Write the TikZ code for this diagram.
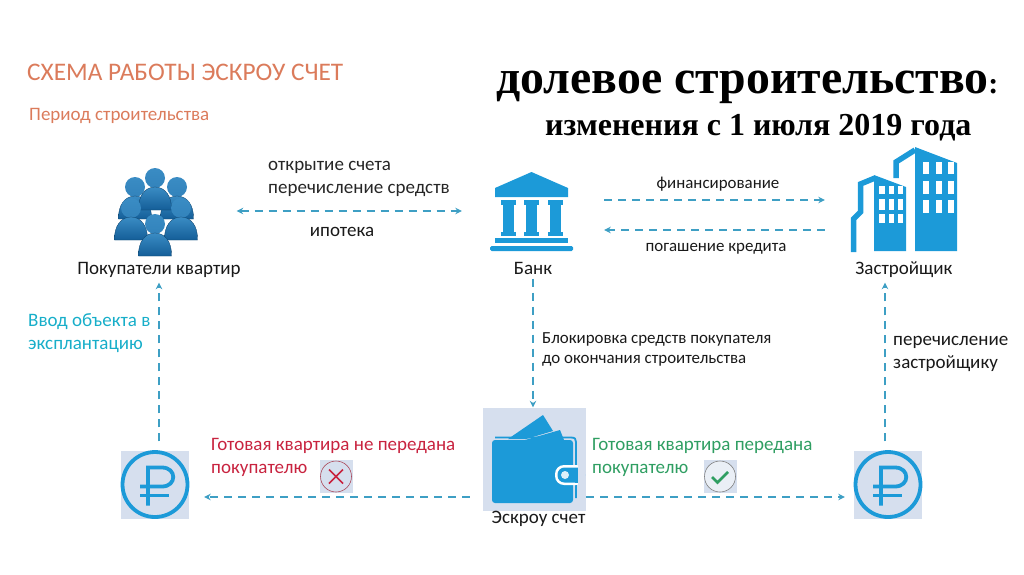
\documentclass[tikz,border=0pt]{standalone}
\usepackage{fontspec}
\setmainfont{Carlito}
\newfontfamily\titlefont{Liberation Serif}
\usepackage{xcolor}
\usetikzlibrary{positioning, arrows.meta}
\definecolor{iconBlue}{HTML}{1C9AD8}
\definecolor{flowTeal}{HTML}{3E9FC4}
\definecolor{badgeGrey}{HTML}{D6DFEE}
\definecolor{headOrange}{HTML}{DB7B5B}
\definecolor{inputTeal}{HTML}{17AEC9}
\definecolor{lostRed}{HTML}{C8233F}
\definecolor{doneGreen}{HTML}{2F9E62}
\definecolor{peopleTop}{HTML}{3A8CC4}
\definecolor{peopleLow}{HTML}{145E98}

\begin{document}
\begin{tikzpicture}[
  x=1pt, y=-1pt,
  every node/.style={font=\fontsize{19}{23}\selectfont, text=black!90, inner sep=0pt},
  spot/.style={minimum width=#1, minimum height=80pt},
  caption/.style={font=\fontsize{19}{23}\selectfont, align=center, text height=13pt, text depth=4pt},
  note/.style={font=\fontsize{19}{23}\selectfont, align=left, anchor=west},
  small/.style={font=\fontsize{16.9}{20}\selectfont, align=left, anchor=west},
  tilebox/.style={fill=badgeGrey, minimum width=#1, minimum height=#1},
  flow/.style={flowTeal, line width=1.8pt, dash pattern=on 8pt off 6pt, -{Stealth[length=6.5pt,width=6.5pt]}},
  flowboth/.style={flow, {Stealth[length=6.5pt,width=6.5pt]}-{Stealth[length=6.5pt,width=6.5pt]}},
  person/.pic={
    \shade[top color=peopleTop, bottom color=peopleTop!80!peopleLow] (0,0) circle (10);
    \shade[top color=peopleTop, bottom color=peopleLow, draw=peopleLow!70!black, line width=0.3pt]
      (-16.5,32) .. controls (-17,18) and (-10,9) .. (0,9)
      .. controls (10,9) and (17,18) .. (16.5,32) -- cycle;
  },
  rubleicon/.pic={
    \draw[iconBlue, line width=3.8pt] (0,0) circle (32.5);
    \draw[iconBlue, line width=3.8pt] (-7,21) -- (-7,-17) -- (7,-17)
      .. controls (22,-17) and (22,2) .. (7,2) -- (-15,2);
    \draw[iconBlue, line width=3.8pt] (-15,11) -- (14,11);
  },
]
\useasboundingbox (0,0) rectangle (1024,574);

% Headings
\node[font=\fontsize{25.3}{28}\selectfont, text=headOrange, anchor=west] (schemehead) at (27,72) {СХЕМА РАБОТЫ ЭСКРОУ СЧЕТ};
\node[small, font=\fontsize{19}{20}\selectfont, text=headOrange] (periodhead) at (29,116) {Период строительства};
\node[font=\fontsize{47.8}{50}\selectfont\titlefont\bfseries, text=black, anchor=base west] (lawhead) at (496,93) {долевое строительство{\fontsize{30}{30}\selectfont:}};
\node[font=\fontsize{32}{34}\selectfont\titlefont\bfseries, text=black, anchor=base west] (lawsub) at (545,135) {изменения с 1 июля 2019 года};

% Icon places
\node[spot=85pt] (buyers) at (157,211) {};
\node[spot=83pt] (bank) at (531.5,211) {};
\node[spot=107pt] (builder) at (903.5,211) {};
\node[tilebox=103pt] (wallet) at (534.5,459) {};
\node[tilebox=68pt] (rubleleft) at (155,484.5) {};
\node[tilebox=68pt] (rubleright) at (888,484.5) {};
\node[tilebox=33pt] (crossbadge) at (336,476.5) {};
\node[tilebox=33pt] (checkbadge) at (720,476.5) {};

% Captions
\node[caption] (buyersname) at (159,270) {Покупатели квартир};
\node[caption] (bankname) at (533,270) {Банк};
\node[caption] (buildername) at (904,270) {Застройщик};
\node[caption, below=0pt of wallet.south, xshift=4pt] (walletname) {Эскроу счет};

% Buyers
\foreach \px/\py in {135/187, 177/187, 155/178, 131/208, 181/208, 155/224}
  \pic at (\px,\py) {person};

% Bank
\fill[iconBlue] (531.5,172) -- (568,188) -- (568,197) -- (495,197) -- (495,188) -- cycle;
\foreach \cx in {508.5,531.5,555.5} {
  \fill[iconBlue] (\cx-7.5,200) rectangle (\cx+7.5,205);
  \fill[iconBlue] (\cx-5.5,205) rectangle (\cx+5.5,232);
  \fill[iconBlue] (\cx-7.5,232) rectangle (\cx+7.5,236);
}
\fill[iconBlue] (495,238) rectangle (568,243);
\fill[iconBlue, rounded corners=1.5pt] (490,246) rectangle (573,251);

% Builder
\fill[iconBlue] (915,147) -- (957,163) -- (957,251) -- (915,251) -- cycle;
\fill[iconBlue] (874,175) -- (906,187) -- (906,251) -- (874,251) -- cycle;
\draw[iconBlue, line width=5.5pt] (896,178) -- (896,162) -- (915,150);
\draw[iconBlue, line width=5.5pt] (853.5,252) -- (853.5,219) -- (860.5,212) -- (860.5,184) -- (875,178);
\foreach \wx/\ww in {879/6,889/4.5,898/4.5} {
  \foreach \wy/\wh in {186/8,199/11,214/9}
    \fill[white] (\wx,\wy) rectangle (\wx+\ww,\wy+\wh);
}
\foreach \wx in {923,936,948} {
  \foreach \wy/\wh in {162/12,181/13,200/13}
    \fill[white] (\wx,\wy) rectangle (\wx+6,\wy+\wh);
}

% Wallet
\fill[iconBlue] (508,439) -- (543,415) -- (553,431) -- (526,439) -- cycle;
\fill[iconBlue] (525,440) -- (560,430) -- (564,440) -- cycle;
\draw[iconBlue, line width=1.8pt] (495,437.5) -- (571,437.5) .. controls (575,437.5) and (576,439) .. (576,442) -- (576,498);
\fill[iconBlue, rounded corners=3pt] (492,440) rectangle (573,503);
\fill[white, rounded corners=9pt] (555,465) rectangle (585,485);
\fill[iconBlue, rounded corners=7pt] (557.5,467.5) rectangle (585,482.5);
\fill[badgeGrey] (577.5,460) rectangle (585,490);
\fill[iconBlue] (575,467.5) rectangle (577.5,482.5);
\fill[white!85!iconBlue] (565,475) circle (4);

% Rubles
\pic at (rubleleft) {rubleicon};
\pic at (rubleright) {rubleicon};

% Badges
\draw[lostRed!60!gray, line width=0.6pt] (crossbadge) circle (15.5);
\draw[lostRed, line width=1.6pt] (329,469.5) -- (343,483.5) (343,469.5) -- (329,483.5);
\draw[gray, line width=0.6pt, fill=white!50!badgeGrey] (checkbadge) circle (15.5);
\draw[doneGreen, line width=2.6pt] (712,477) -- (717.5,482.5) -- (728,472);

% Flow labels
\node[note, text=black!85] (openlabel) at (268,167) {открытие счета};
\node[note, text=black!85] (paylabel) at (268,190) {перечисление средств};
\node[caption] (mortgagelabel) at (342,232) {ипотека};
\node[caption, font=\fontsize{16.9}{20}\selectfont] (financelabel) at (718,184) {финансирование};
\node[caption, font=\fontsize{16.9}{20}\selectfont] (repaylabel) at (716,247) {погашение кредита};
\node[small] (locklabel) at (542,349) {Блокировка средств покупателя\\до окончания строительства};
\node[note] (handlabel) at (893,354) {перечисление\\застройщику};
\node[note, text=inputTeal] (inputlabel) at (28,333) {Ввод объекта в\\эксплантацию};
\node[note, text=lostRed] (lostlabel) at (211,457) {Готовая квартира не передана\\покупателю};
\node[note, text=doneGreen] (donelabel) at (592,457) {Готовая квартира передана\\покупателю};

% Connections
\draw[flowboth, shorten <=37pt, shorten >=28pt] (buyers.east) -- (bank.west);
\draw[flow, shorten <=31pt, shorten >=25pt] ([yshift=11pt]bank.east) -- ([yshift=11pt]builder.west);
\draw[flow, shorten <=25pt, shorten >=31pt] ([yshift=-19pt]builder.west) -- ([yshift=-19pt]bank.east);
\draw[flow] (bankname.south) -- (bankname.south |- wallet.north);
\draw[flow, shorten <=13pt, shorten >=15pt] ([yshift=-38pt]wallet.west) -- ([yshift=-38pt]wallet.west -| rubleleft.east);
\draw[flow, shorten >=9pt] ([yshift=-38pt]wallet.east) -- ([yshift=-38pt]wallet.east -| rubleright.west);
\draw[flow, shorten <=9pt, shorten >=4pt] (buyersname.south |- rubleleft.north) -- (buyersname.south);
\draw[flow, shorten <=9pt, shorten >=4pt] ([xshift=-3pt]rubleright.north) -- ([xshift=-3pt]rubleright.north |- buildername.south);

\end{tikzpicture}
\end{document}
